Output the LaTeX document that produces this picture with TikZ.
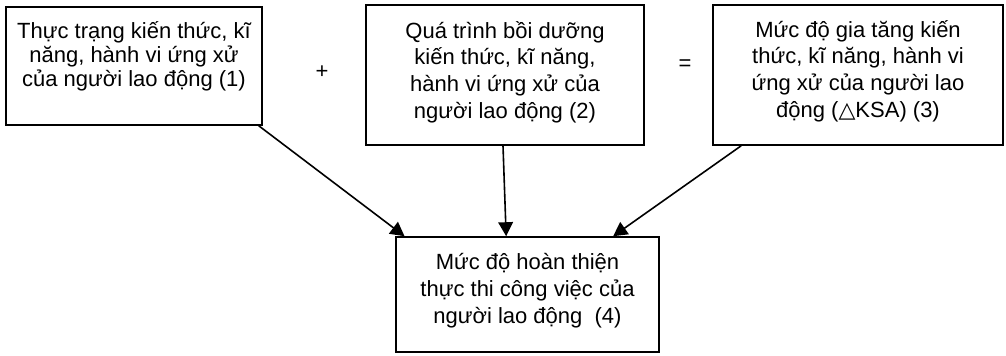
\documentclass[tikz,border=0pt]{standalone}
\usepackage{fontspec}
\setmainfont{Liberation Sans}
\newfontfamily\trifont{DejaVu Sans}
\usetikzlibrary{arrows.meta, positioning}

\begin{document}
\begin{tikzpicture}[
    x=0.75pt, y=-0.75pt,
    box/.style={rectangle, draw=black, line width=1.2pt, align=center, font=\fontsize{16.5}{20}\selectfont, inner sep=0pt},
    link/.style={-{Triangle[length=10.5pt, width=11pt]}, line width=1.2pt}
]
    \useasboundingbox (0,0) rectangle (1006,355);

    % Current state
    \node[box, font=\fontsize{16.5}{18}\selectfont, minimum width=192pt, text height=59.25pt, text depth=29.25pt] (state) at (134,66) {Thực trạng kiến thức, kĩ\\năng, hành vi ứng xử\\của người lao động (1)};

    % Training
    \node[box, minimum width=208.5pt, text height=84.75pt, text depth=20.25pt] (training) at (505,75) {Quá trình bồi dưỡng\\kiến thức, kĩ năng,\\hành vi ứng xử của\\người lao động (2)};

    % Increase
    \node[box, minimum width=217.5pt, text height=84pt, text depth=21pt] (gain) at (858,75) {Mức độ gia tăng kiến\\thức, kĩ năng, hành vi\\ứng xử của người lao\\động ({\trifont △}KSA) (3)};

    % Result
    \node[box, minimum width=197.25pt, text height=64.5pt, text depth=21.75pt] (result) at (527.5,294.5) {Mức độ hoàn thiện\\thực thi công việc của\\người lao động~ (4)};

    % Operators
    \node[font=\fontsize{16.5}{18}\selectfont] (plus) at (322,72) {+};
    \node[font=\fontsize{16.5}{18}\selectfont] (equals) at (685,65) {=};

    % Connections
    \draw[link] ([xshift=-3pt]state.south east) -- ([xshift=7pt]result.north west);
    \draw[link] ([xshift=-1.5pt]training.south) -- ([xshift=-16pt]result.north);
    \draw[link] ([xshift=-197pt]gain.south east) -- ([xshift=-35pt]result.north east);
\end{tikzpicture}
\end{document}
